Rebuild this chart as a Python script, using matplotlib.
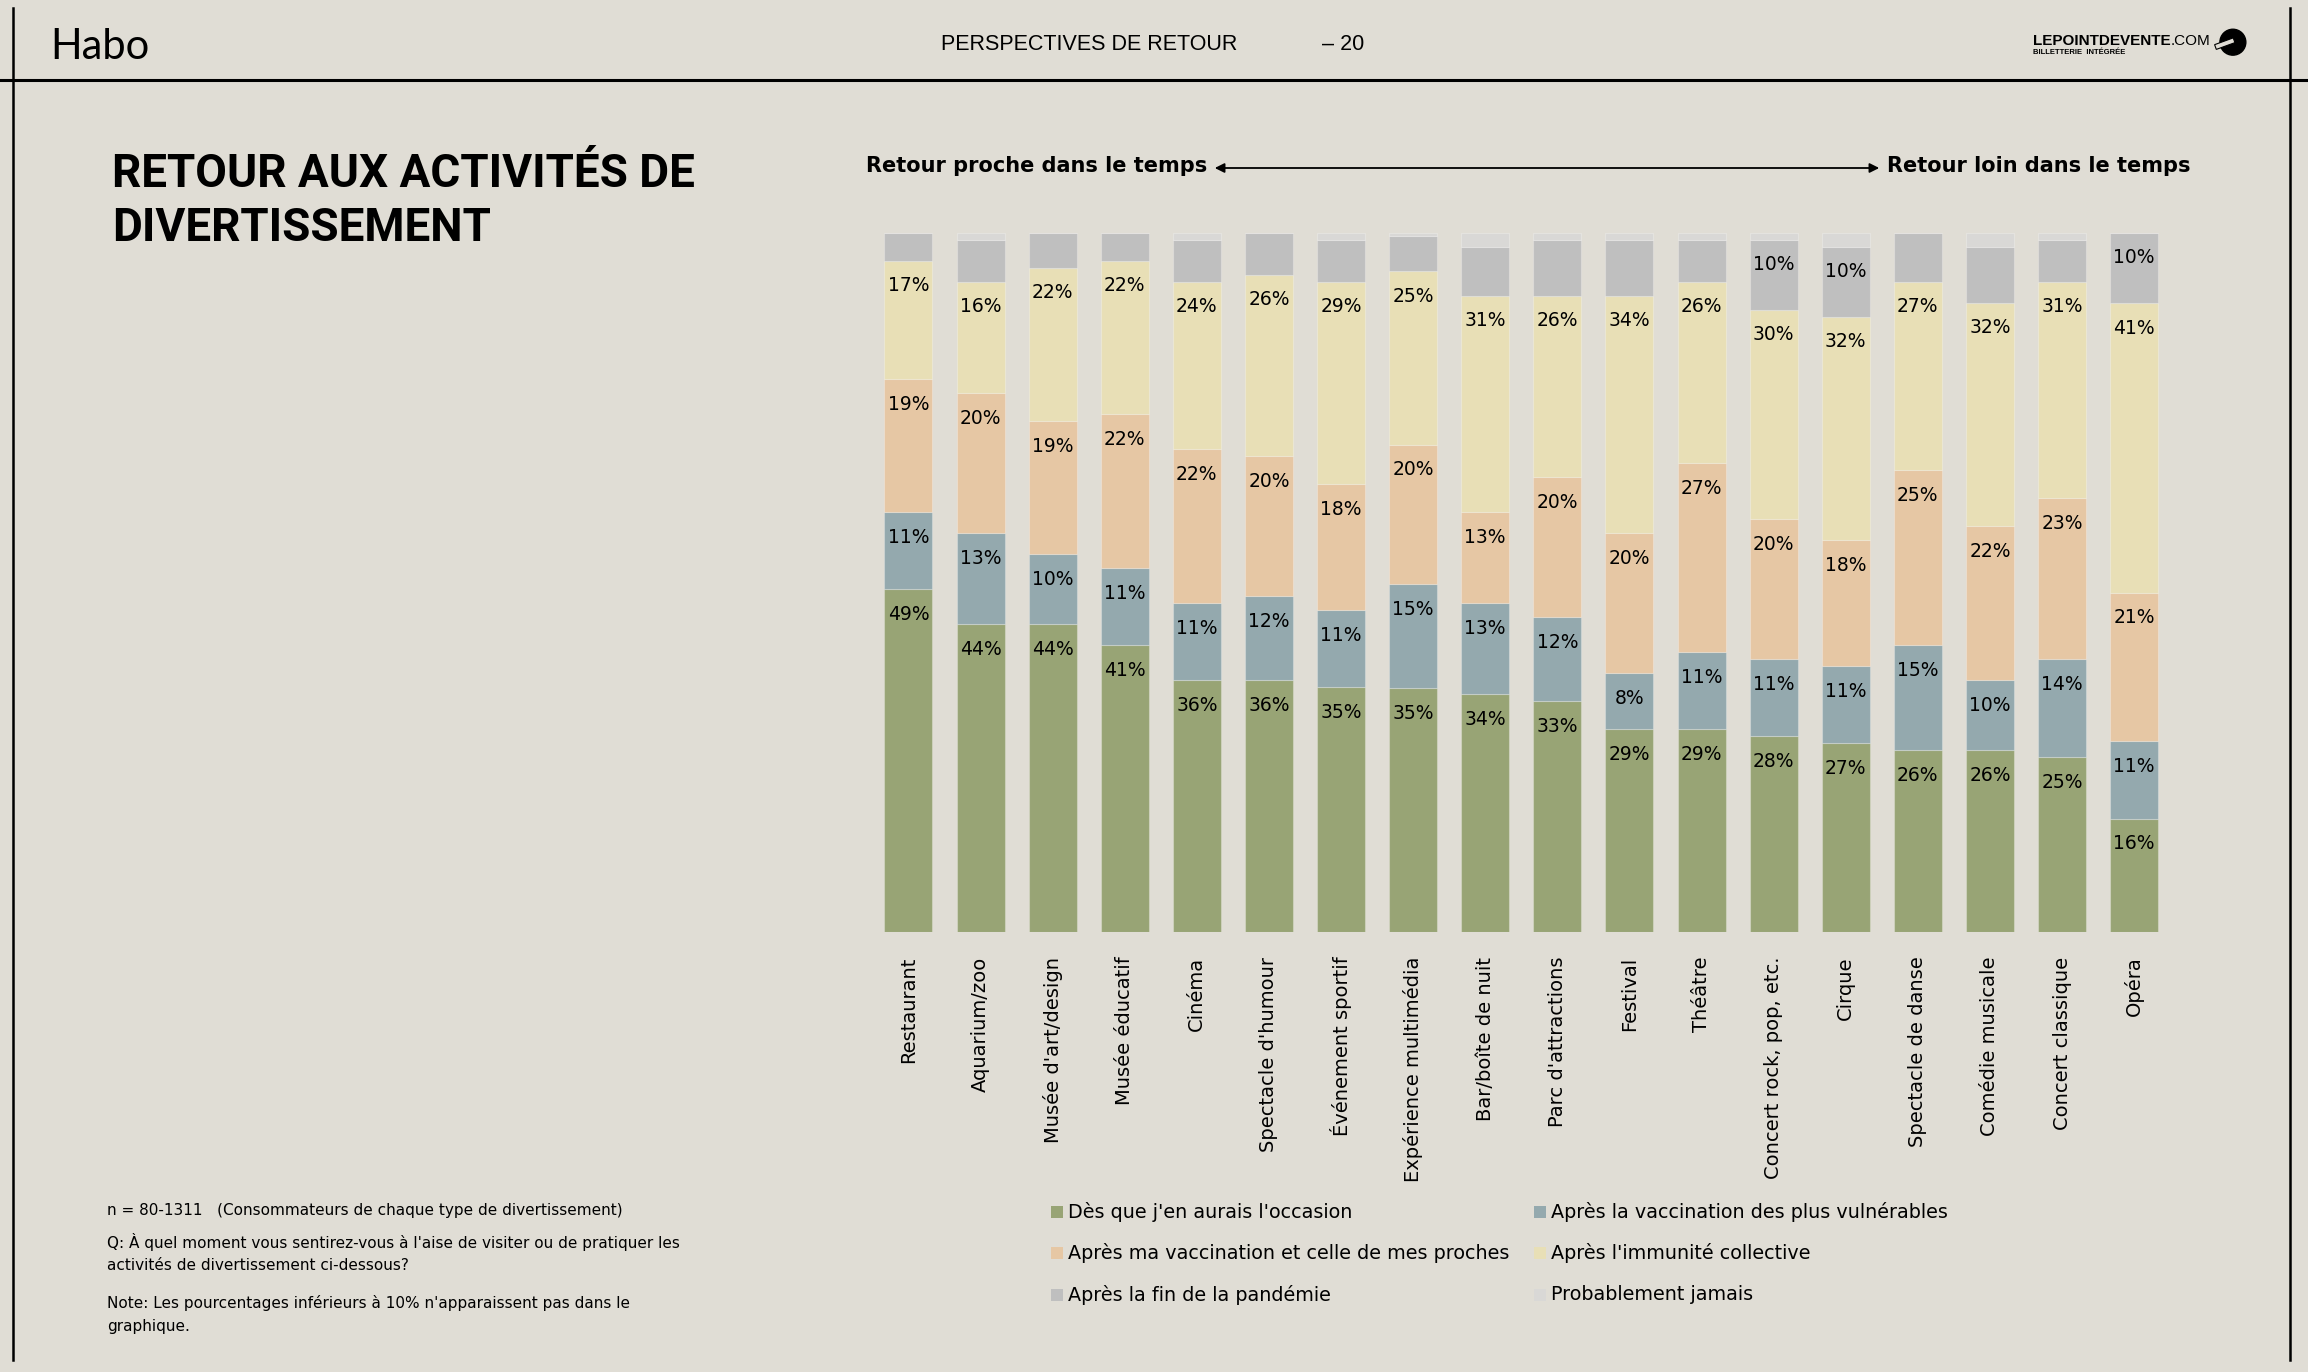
import matplotlib
matplotlib.use("Agg")
import matplotlib.pyplot as plt
import numpy as np
from matplotlib.lines import Line2D
from matplotlib.patches import Rectangle, Circle, FancyArrowPatch

# ---------------- data ----------------
categories = ["Restaurant", "Aquarium/zoo", "Musée d'art/design", "Musée éducatif",
              "Cinéma", "Spectacle d'humour", "Événement sportif", "Expérience multimédia",
              "Bar/boîte de nuit", "Parc d'attractions", "Festival", "Théâtre",
              "Concert rock, pop, etc.", "Cirque", "Spectacle de danse",
              "Comédie musicale", "Concert classique", "Opéra"]

des_que_occasion = [49, 44, 44, 41, 36, 36, 35, 35, 34, 33, 29, 29, 28, 27, 26, 26, 25, 16]
vacc_vulnerables = [11, 13, 10, 11, 11, 12, 11, 15, 13, 12, 8, 11, 11, 11, 15, 10, 14, 11]
vacc_proches     = [19, 20, 19, 22, 22, 20, 18, 20, 13, 20, 20, 27, 20, 18, 25, 22, 23, 21]
immunite         = [17, 16, 22, 22, 24, 26, 29, 25, 31, 26, 34, 26, 30, 32, 27, 32, 31, 41]
fin_pandemie     = [4, 6, 5, 4, 6, 6, 6, 5, 7, 8, 8, 6, 10, 10, 7, 8, 6, 10]
jamais           = [0, 1, 0, 0, 1, 0, 1, 0.5, 2, 1, 1, 1, 1, 2, 0, 2, 1, 0]

series_names = ["Dès que j'en aurais l'occasion", "Après la vaccination des plus vulnérables",
                "Après ma vaccination et celle de mes proches", "Après l'immunité collective",
                "Après la fin de la pandémie", "Probablement jamais"]
series = [des_que_occasion, vacc_vulnerables, vacc_proches, immunite, fin_pandemie, jamais]
colors = ["#98a475", "#94a9ae", "#e6c7a4", "#e8dfb6", "#bfbfbf", "#d9d8d6"]

BG = "#e0ddd5"
W, H = 2308, 1372

fig = plt.figure(figsize=(W / 100, H / 100), dpi=100, facecolor=BG)


def fx(x):
    return x / W


def fy(y):
    return 1 - y / H


# ---------------- frame lines ----------------
fig.add_artist(Line2D([fx(0), fx(W)], [fy(80), fy(80)], color="black", lw=2.2,
                      transform=fig.transFigure))
fig.add_artist(Line2D([fx(13), fx(13)], [fy(8), fy(1360)], color="black", lw=1.8,
                      transform=fig.transFigure))
fig.add_artist(Line2D([fx(2290), fx(2290)], [fy(8), fy(1360)], color="black", lw=1.8,
                      transform=fig.transFigure))

# ---------------- header ----------------
fig.text(fx(50), fy(47), "Habo", fontsize=30, family=["Lato", "DejaVu Sans"],
         fontweight="normal", va="center", ha="left", color="black")
fig.text(fx(1089), fy(44), "PERSPECTIVES DE RETOUR", fontsize=15.5,
         family=["Liberation Sans", "DejaVu Sans"], va="center", ha="center")
fig.text(fx(1322), fy(44), "– 20", fontsize=15.5, family=["Liberation Sans", "DejaVu Sans"],
         va="center", ha="left")
t_logo = fig.text(fx(2033), fy(41), "LEPOINTDEVENTE", fontsize=11, fontweight="bold",
                  family=["Liberation Sans", "DejaVu Sans"], va="center", ha="left")
fig.canvas.draw()
bb = t_logo.get_window_extent(renderer=fig.canvas.get_renderer())
fig.text(bb.x1 / W + 0.0002, fy(41), ".COM", fontsize=11,
         family=["Liberation Sans", "DejaVu Sans"], va="center", ha="left")
fig.text(fx(2033), fy(53), "BILLETTERIE  INTÉGRÉE", fontsize=5.5, fontweight="bold",
         family=["Liberation Sans", "DejaVu Sans"], va="center", ha="left")
ax_logo = fig.add_axes([fx(2212), fy(62), fx(36), 36 / H])
ax_logo.set_xlim(0, 1)
ax_logo.set_ylim(0, 1)
ax_logo.set_aspect("equal")
ax_logo.axis("off")
ax_logo.add_patch(Circle((0.58, 0.55), 0.36, color="black"))
ax_logo.add_patch(Rectangle((0.12, 0.35), 0.55, 0.14, angle=20, facecolor=BG,
                            edgecolor="black", lw=0.8))

# ---------------- title ----------------
title_font = ["Roboto", "DejaVu Sans"]
fig.text(fx(112), fy(174), "RETOUR AUX ACTIVITÉS DE", fontsize=33, fontweight="bold",
         family=title_font, va="center", ha="left")
fig.text(fx(112), fy(228), "DIVERTISSEMENT", fontsize=33, fontweight="bold",
         family=title_font, va="center", ha="left")

# ---------------- arrow annotation ----------------
fig.text(fx(1207), fy(166), "Retour proche dans le temps", fontsize=15, fontweight="bold",
         va="center", ha="right")
fig.text(fx(1887), fy(166), "Retour loin dans le temps", fontsize=15, fontweight="bold",
         va="center", ha="left")
fig.add_artist(FancyArrowPatch((fx(1212), fy(168)), (fx(1882), fy(168)),
                               transform=fig.transFigure, arrowstyle="<|-|>",
                               mutation_scale=14, color="black", lw=1.3))

# ---------------- chart ----------------
left_px, right_px = 872.4, 872.4 + 18 * 72.1
top_px, bottom_px = 232.7, 931.7
ax = fig.add_axes([fx(left_px), fy(bottom_px), (right_px - left_px) / W,
                   (bottom_px - top_px) / H])
ax.set_facecolor("none")

data = np.array(series, dtype=float)
totals = data.sum(axis=0)
norm = data / totals * 100
x = np.arange(len(categories))
bottom = np.zeros(len(categories))
for j, (vals, shown) in enumerate(zip(norm, data)):
    ax.bar(x, vals, bottom=bottom, width=0.667, color=colors[j],
           edgecolor=(1, 1, 1, 0.25), linewidth=0.8)
    for i in range(len(categories)):
        v = shown[i]
        if v >= 10 or (j < 4 and v > 0):
            ax.text(x[i], bottom[i] + vals[i] - 3.6, f"{int(round(v))}%",
                    ha="center", va="center", fontsize=13.5, color="black")
    bottom += vals

ax.set_xlim(-0.5, len(categories) - 0.5)
ax.set_ylim(0, 100)
for s in ax.spines.values():
    s.set_visible(False)
ax.set_yticks([])
ax.set_xticks(x)
ax.set_xticklabels(categories, rotation=90, fontsize=14, va="top", ha="center")
ax.tick_params(axis="x", length=0, pad=18)

# ---------------- legend ----------------
leg_pos = [(1051, 1212), (1534, 1212), (1051, 1253), (1534, 1253), (1051, 1295), (1534, 1295)]
for (px, py), name, c in zip(leg_pos, series_names, colors):
    fig.add_artist(Rectangle((fx(px), fy(py + 6)), 12 / W, 12 / H, facecolor=c,
                             edgecolor="none", transform=fig.transFigure))
    fig.text(fx(px + 17), fy(py), name, fontsize=13.8, va="center", ha="left")

# ---------------- footnotes ----------------
fs_note = 11
fig.text(fx(107), fy(1211), "n = 80-1311   (Consommateurs de chaque type de divertissement)",
         fontsize=fs_note, va="center", ha="left")
fig.text(fx(107), fy(1242),
         "Q: À quel moment vous sentirez-vous à l'aise de visiter ou de pratiquer les",
         fontsize=fs_note, va="center", ha="left")
fig.text(fx(107), fy(1266), "activités de divertissement ci-dessous?", fontsize=fs_note,
         va="center", ha="left")
fig.text(fx(107), fy(1303),
         "Note: Les pourcentages inférieurs à 10% n'apparaissent pas dans le",
         fontsize=fs_note, va="center", ha="left")
fig.text(fx(107), fy(1326), "graphique.", fontsize=fs_note, va="center", ha="left")

fig.savefig("out.png", dpi=100, facecolor=BG)
